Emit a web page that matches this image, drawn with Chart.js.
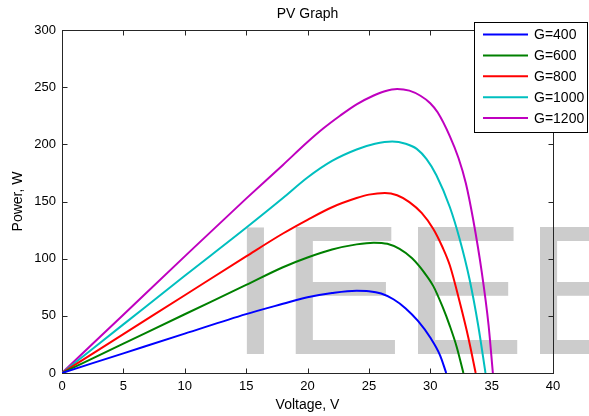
<!DOCTYPE html>
<html>
<head>
<meta charset="utf-8">
<script src="https://cdn.jsdelivr.net/npm/chart.js@4.4.1/dist/chart.umd.min.js"></script>
<style>
  html, body { margin: 0; padding: 0; background: #ffffff; }
  #wrap { width: 589px; height: 416px; }
</style>
</head>
<body>
<div id="wrap"><canvas id="pv" width="589" height="416"></canvas></div>
<script>
// Irradiance levels (W/m²) shown in the legend
const seriesLabels = ['G=400', 'G=600', 'G=800', 'G=1000', 'G=1200'];

// Voltage (V) and power (W) samples for each irradiance level
const vG400  = [0, 5, 10, 15, 18, 20, 22, 24, 25, 26, 27, 28, 29, 30, 30.8, 31.3];
const pG400  = [0, 17.2, 34.4, 51.5, 60.5, 66.3, 70, 72, 71.6, 69.5, 64.5, 56.5, 45.5, 31, 15.5, 0];

const vG600  = [0, 5, 10, 15, 18, 20, 22, 24, 25.4, 26.5, 27.5, 28.5, 29.5, 30.25, 31, 31.6, 32.15, 32.7];
const pG600  = [0, 25.7, 51.4, 77, 92.5, 101, 108, 112.5, 114, 113, 108.5, 100.5, 88, 76, 58, 41, 23, 0];

const vG800  = [0, 5, 10, 15, 18, 20, 22, 24, 25, 26.3, 27.3, 28.3, 29.3, 30.25, 31, 31.6, 32.4, 33.1, 33.7];
const pG800  = [0, 34, 68, 102, 122, 134, 145, 153, 156, 157.5, 155.5, 149.5, 140, 126, 110, 94, 62, 31, 0];

const vG1000 = [0, 5, 10, 15, 18, 20, 22, 24, 25.5, 26.9, 28, 28.9, 29.7, 30.5, 31.6, 32.4, 33.2, 33.9, 34.5];
const pG1000 = [0, 42.5, 85, 127, 153, 171, 185.5, 195.5, 200.5, 202.5, 200.5, 196, 187, 173, 145, 117, 82, 42, 0];

const vG1200 = [0, 5, 10, 15, 18, 20, 21.3, 22.65, 24, 25.35, 26.3, 27.3, 28.3, 29.2, 30, 30.6, 31.6, 32.3, 32.9, 33.5, 34.2, 34.75, 35.1];
const pG1200 = [0, 51, 102, 152.5, 182, 202, 214, 225, 235, 242.5, 246.5, 248.5, 247, 242.5, 236, 228, 207, 188, 166, 134, 88, 42, 0];

// Axis ranges and tick spacing
const xRange = [0, 40];
const xStep = 5;
const yRange = [0, 300];
const yStep = 50;

const chartTitle = 'PV Graph';
const seriesColors = ['#0000ff', '#008000', '#ff0000', '#00bfbf', '#bf00bf'];
const voltages = [vG400, vG600, vG800, vG1000, vG1200];
const powers = [pG400, pG600, pG800, pG1000, pG1200];

const watermark = 'IEEE';
const FONT = '"Liberation Sans", Arial, Helvetica, sans-serif';

function pairs(v, p) {
  return v.map((x, i) => ({ x: x, y: p[i] }));
}

// Large grey background lettering, then the boxed axes with inward ticks
const framePlugin = {
  id: 'frame',
  beforeDatasetsDraw(chart) {
    const { ctx, chartArea: a, scales } = chart;
    ctx.save();
    ctx.font = '183px ' + FONT;
    ctx.fillStyle = '#cccccc';
    ctx.textBaseline = 'alphabetic';
    ctx.textAlign = 'left';
    ctx.fillText(watermark, 230, 354);

    const L = Math.round(a.left) + 0.5;
    const R = Math.round(a.right) + 0.5;
    const T = Math.round(a.top) + 0.5;
    const B = Math.round(a.bottom) + 0.5;
    const tick = 5;
    ctx.strokeStyle = '#262626';
    ctx.lineWidth = 1;
    ctx.strokeRect(L, T, R - L, B - T);
    ctx.beginPath();
    scales.x.ticks.forEach(t => {
      const px = Math.round(scales.x.getPixelForValue(t.value)) + 0.5;
      ctx.moveTo(px, B); ctx.lineTo(px, B - tick);
      ctx.moveTo(px, T); ctx.lineTo(px, T + tick);
    });
    scales.y.ticks.forEach(t => {
      const py = Math.round(scales.y.getPixelForValue(t.value)) + 0.5;
      ctx.moveTo(L, py); ctx.lineTo(L + tick, py);
      ctx.moveTo(R, py); ctx.lineTo(R - tick, py);
    });
    ctx.stroke();

    // title centred over the plotting box
    ctx.font = '14px ' + FONT;
    ctx.fillStyle = '#000000';
    ctx.textAlign = 'center';
    ctx.textBaseline = 'middle';
    ctx.fillText(chartTitle, (a.left + a.right) / 2, 14);
    ctx.restore();
  }
};

// Legend box in the upper right corner
const legendPlugin = {
  id: 'legendBox',
  afterDraw(chart) {
    const ctx = chart.ctx;
    ctx.save();
    ctx.fillStyle = '#ffffff';
    ctx.fillRect(474, 22, 114, 111);
    ctx.strokeStyle = '#000000';
    ctx.lineWidth = 1;
    ctx.strokeRect(474.5, 22.5, 113, 110);
    ctx.font = '14px ' + FONT;
    ctx.textBaseline = 'middle';
    ctx.textAlign = 'left';
    chart.data.datasets.forEach((ds, i) => {
      const yy = 34.5 + i * 20.9;
      ctx.strokeStyle = ds.borderColor;
      ctx.lineWidth = 2;
      ctx.beginPath();
      ctx.moveTo(483, yy);
      ctx.lineTo(528, yy);
      ctx.stroke();
      ctx.fillStyle = '#000000';
      ctx.fillText(ds.label, 534, yy + 1);
    });
    ctx.restore();
  }
};

new Chart(document.getElementById('pv'), {
  type: 'line',
  data: {
    datasets: seriesLabels.map((label, i) => ({
      label: label,
      data: pairs(voltages[i], powers[i]),
      borderColor: seriesColors[i],
      backgroundColor: seriesColors[i],
      borderWidth: 2,
      pointRadius: 0,
      fill: false,
      cubicInterpolationMode: 'monotone'
    }))
  },
  options: {
    responsive: false,
    animation: false,
    devicePixelRatio: 1,
    layout: { padding: { left: 0, right: 36, top: 30, bottom: 0 } },
    plugins: {
      legend: { display: false },
      tooltip: { enabled: false },
      title: { display: false }
    },
    scales: {
      x: {
        type: 'linear',
        min: xRange[0],
        max: xRange[1],
        grid: { display: false, drawTicks: false },
        border: { display: false },
        ticks: {
          stepSize: xStep,
          color: '#000000',
          padding: 6,
          maxRotation: 0,
          font: { family: FONT, size: 13 }
        },
        title: {
          display: true,
          text: 'Voltage, V',
          color: '#000000',
          font: { family: FONT, size: 14 },
          padding: { top: 0, bottom: 2 }
        },
        afterFit(scale) { scale.height = 43; }
      },
      y: {
        type: 'linear',
        min: yRange[0],
        max: yRange[1],
        grid: { display: false, drawTicks: false },
        border: { display: false },
        ticks: {
          stepSize: yStep,
          color: '#000000',
          padding: 6,
          font: { family: FONT, size: 13 }
        },
        title: {
          display: true,
          text: 'Power, W',
          color: '#000000',
          font: { family: FONT, size: 14 },
          padding: { top: 10, bottom: 0 }
        },
        afterFit(scale) { scale.width = 62; }
      }
    }
  },
  plugins: [framePlugin, legendPlugin]
});
</script>
</body>
</html>
